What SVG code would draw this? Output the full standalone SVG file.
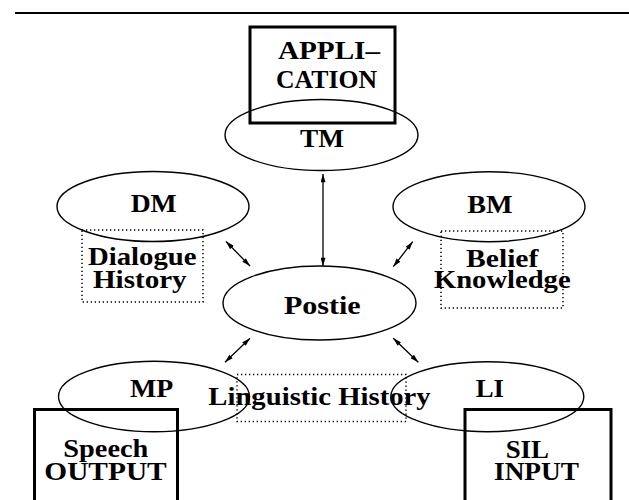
<svg xmlns="http://www.w3.org/2000/svg" width="629" height="500" viewBox="0 0 629 500">
<style>
  .lbl { font-family: "Liberation Serif", "Times New Roman", serif; font-weight: bold; font-size: 25px; fill: #000; text-anchor: middle; }
  .ell { fill: none; stroke: #000; stroke-width: 1.4; }
  .box { fill: none; stroke: #000; stroke-width: 3; }
  .dot { fill: none; stroke: #000; stroke-width: 1.5; stroke-dasharray: 1.3 2.7; }
  .con { fill: none; stroke: #000; stroke-width: 1.3; marker-start: url(#ah); marker-end: url(#ah); }
</style>
<defs>
  <marker id="ah" viewBox="0 0 10 6" refX="10" refY="3" markerWidth="9" markerHeight="5" markerUnits="userSpaceOnUse" orient="auto-start-reverse">
    <path d="M0,0 L10,3 L0,6 z" fill="#000"/>
  </marker>
</defs>
<rect width="629" height="500" fill="#fff"/>
<line x1="15" y1="13" x2="629" y2="13" stroke="#000" stroke-width="2"/>

<g id="application">
  <rect class="box" x="250" y="27" width="145" height="96"/>
  <text class="lbl" x="329" y="59" textLength="102" lengthAdjust="spacingAndGlyphs">APPLI–</text>
  <text class="lbl" x="326.5" y="88" textLength="101" lengthAdjust="spacingAndGlyphs">CATION</text>
</g>
<g id="tm">
  <ellipse class="ell" cx="321.5" cy="135" rx="96.5" ry="35.5"/>
  <text class="lbl" x="322" y="147" textLength="44" lengthAdjust="spacingAndGlyphs">TM</text>
</g>
<g id="dm">
  <ellipse class="ell" cx="153" cy="206.5" rx="96" ry="35"/>
  <text class="lbl" x="153.7" y="212" textLength="46" lengthAdjust="spacingAndGlyphs">DM</text>
</g>
<g id="dialogue-history">
  <rect class="dot" x="82" y="230" width="121" height="72"/>
  <text class="lbl" x="142.3" y="265" textLength="108.7" lengthAdjust="spacingAndGlyphs">Dialogue</text>
  <text class="lbl" x="139.8" y="288" textLength="93.7" lengthAdjust="spacingAndGlyphs">History</text>
</g>
<g id="bm">
  <ellipse class="ell" cx="489" cy="206.7" rx="96" ry="35"/>
  <text class="lbl" x="490" y="213" textLength="45.4" lengthAdjust="spacingAndGlyphs">BM</text>
</g>
<g id="belief-knowledge">
  <rect class="dot" x="441" y="231" width="122" height="77"/>
  <text class="lbl" x="502.2" y="267" textLength="72.3" lengthAdjust="spacingAndGlyphs">Belief</text>
  <text class="lbl" x="502.3" y="288" textLength="136.7" lengthAdjust="spacingAndGlyphs">Knowledge</text>
</g>
<g id="postie">
  <ellipse class="ell" cx="319.5" cy="303" rx="96.5" ry="37"/>
  <text class="lbl" x="322.3" y="314" textLength="76.7" lengthAdjust="spacingAndGlyphs">Postie</text>
</g>
<g id="linguistic-history">
  <rect class="dot" x="237" y="374.5" width="169" height="47"/>
  <text class="lbl" x="319.5" y="405" textLength="222.4" lengthAdjust="spacingAndGlyphs">Linguistic History</text>
</g>
<g id="mp">
  <ellipse class="ell" cx="154" cy="396.5" rx="95.5" ry="35.3"/>
  <text class="lbl" x="151.7" y="397" textLength="43.3" lengthAdjust="spacingAndGlyphs">MP</text>
</g>
<g id="speech-output">
  <rect class="box" x="34.5" y="409.5" width="143" height="100"/>
  <text class="lbl" x="105.8" y="457" textLength="85" lengthAdjust="spacingAndGlyphs">Speech</text>
  <text class="lbl" x="105.5" y="480" textLength="122.4" lengthAdjust="spacingAndGlyphs">OUTPUT</text>
</g>
<g id="li">
  <ellipse class="ell" cx="487.3" cy="396.7" rx="96.5" ry="35"/>
  <text class="lbl" x="489.8" y="397" textLength="28.3" lengthAdjust="spacingAndGlyphs">LI</text>
</g>
<g id="sil-input">
  <rect class="box" x="465" y="409.5" width="146" height="100"/>
  <text class="lbl" x="527.3" y="458" textLength="43.3" lengthAdjust="spacingAndGlyphs">SIL</text>
  <text class="lbl" x="536.5" y="480" textLength="85" lengthAdjust="spacingAndGlyphs">INPUT</text>
</g>

<g id="connectors">
  <line class="con" x1="323" y1="174" x2="323" y2="266"/>
  <line class="con" x1="226" y1="241.5" x2="250" y2="266"/>
  <line class="con" x1="412.7" y1="241.7" x2="393.3" y2="266.7"/>
  <line class="con" x1="250" y1="338.3" x2="225" y2="362.3"/>
  <line class="con" x1="393.3" y1="338.3" x2="418.3" y2="362.3"/>
</g>
</svg>
